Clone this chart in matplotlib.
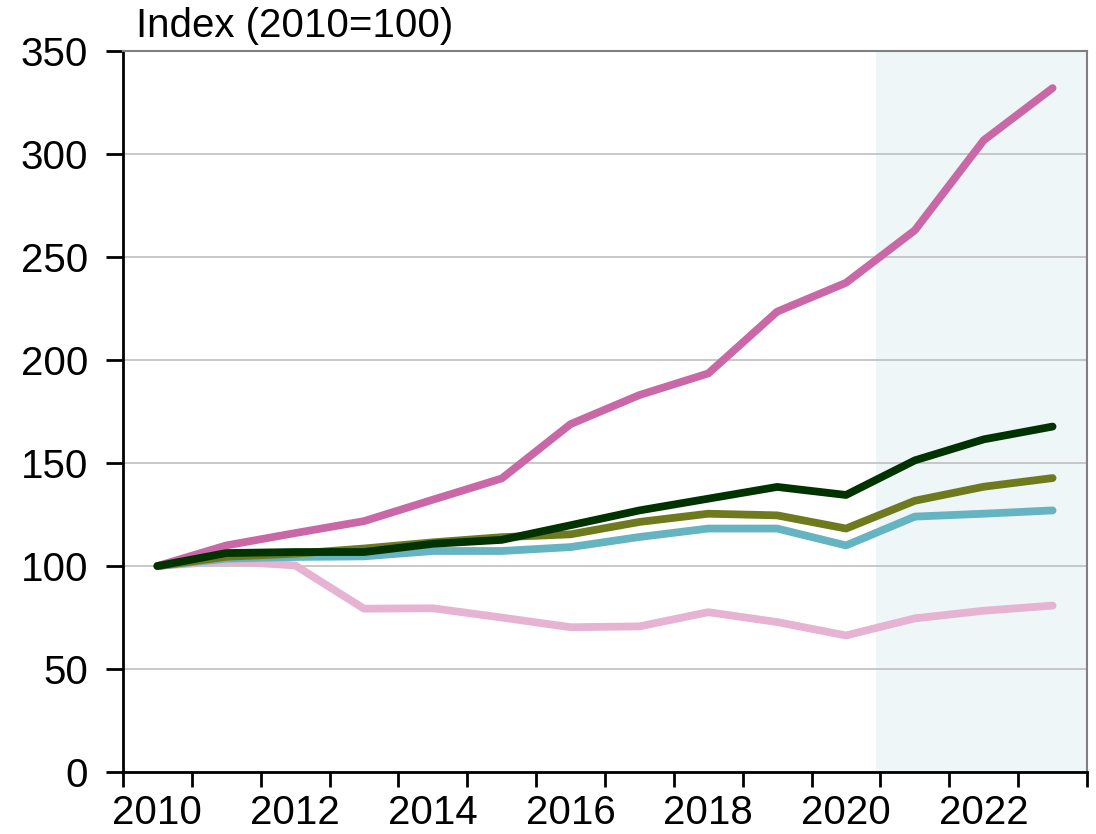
import matplotlib
matplotlib.use("Agg")
import matplotlib.pyplot as plt
import numpy as np

plt.rcParams['font.family'] = ['Liberation Sans', 'DejaVu Sans']

years = np.arange(2010, 2024)

# index values (2010=100)
magenta = [100, 110, 116, 121.8, 132.2, 142.5, 168.9, 183, 193.5, 223.5, 237.5, 263, 306.7, 332]
light_pink = [100, 102.4, 100.3, 79.3, 79.5, 75, 70.3, 70.7, 77.6, 72.8, 66.3, 74.6, 78.3, 80.8]
teal = [100, 103.6, 104.4, 104.7, 107.3, 107.3, 109.2, 114.1, 118.2, 118.2, 110, 124, 125.4, 127]
olive = [100, 104.5, 106, 108.5, 111.5, 114, 115.4, 121.4, 125.4, 124.6, 118.2, 131.7, 138.5, 142.7]
dark_green = [100, 106.3, 106.8, 106.8, 110.8, 112.7, 119.8, 127, 132.7, 138.4, 134.5, 151.3, 161.5, 167.7]

fig = plt.figure(figsize=(10.96, 8.34), dpi=100)
ax = fig.add_axes([0.1122, 0.0743, 0.8796, 0.8645])

# shaded forecast period
ax.axvspan(2020.43, 2023.5, color='#EEF6F7', zorder=0, lw=0)

lw = 5.6
ax.plot(years, light_pink, color='#E6B3D3', lw=lw, solid_capstyle='round', zorder=3)
ax.plot(years, teal, color='#66B3C2', lw=lw, solid_capstyle='round', zorder=4)
ax.plot(years, olive, color='#6F7A1F', lw=lw, solid_capstyle='round', zorder=5)
ax.plot(years, magenta, color='#CA67A6', lw=lw, solid_capstyle='round', zorder=6)
ax.plot(years, dark_green, color='#003300', lw=lw, solid_capstyle='round', zorder=7)

ax.set_xlim(2009.5, 2023.5)
ax.set_ylim(0, 350)
ax.set_yticks(np.arange(0, 351, 50))
ax.yaxis.grid(True, color='#BFBFBF', lw=1.2)
ax.set_axisbelow(True)

# ticks at category edges, labels at centres of even years
ax.set_xticks(np.arange(2009.5, 2024, 1))
ax.set_xticklabels([])
ax.set_xticks(np.arange(2010, 2024, 2), minor=True)
ax.set_xticklabels([str(y) for y in range(2010, 2024, 2)], minor=True)
ax.tick_params(axis='x', which='major', length=11, width=2, color='black')
ax.tick_params(axis='x', which='minor', length=0, labelsize=29, pad=16)
ax.tick_params(axis='y', length=12, width=2, labelsize=29, pad=13)

for side in ['left', 'bottom']:
    ax.spines[side].set_linewidth(2)
    ax.spines[side].set_color('black')
for side in ['top', 'right']:
    ax.spines[side].set_linewidth(1.5)
    ax.spines[side].set_color('#808080')

fig.text(0.124, 0.992, 'Index (2010=100)', fontsize=29, ha='left', va='top')

fig.savefig('out.png', dpi=100)
